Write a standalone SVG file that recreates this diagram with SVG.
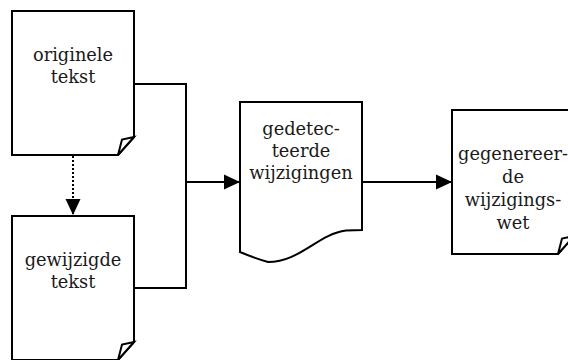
<svg xmlns="http://www.w3.org/2000/svg" width="568" height="360" viewBox="0 0 568 360">
  <style>
    .shape { fill: #ffffff; stroke: #000000; stroke-width: 2; stroke-linejoin: miter; }
    .wire { fill: none; stroke: #000000; stroke-width: 2; }
    .dotted { fill: none; stroke: #000000; stroke-width: 2; stroke-dasharray: 2 2; }
    .label { font-family: "DejaVu Serif", serif; font-size: 17.8px; fill: #1a1a1a; text-anchor: middle; }
  </style>
  <defs>
    <marker id="arrow" markerUnits="userSpaceOnUse" markerWidth="16" markerHeight="16" refX="16" refY="8" orient="auto">
      <path d="M0,0.5 L16,8 L0,15.5 Z" fill="#000000"/>
    </marker>
  </defs>

  <rect width="568" height="360" fill="#ffffff"/>

  <!-- connectors -->
  <g id="connectors">
    <path class="wire" d="M134,84 H186 V288 H134"/>
    <path class="wire" d="M186,182 H240" marker-end="url(#arrow)"/>
    <path class="wire" d="M362,182 H452" marker-end="url(#arrow)"/>
    <path class="dotted" d="M73,156 V215" marker-end="url(#arrow)"/>
  </g>

  <!-- original text document -->
  <g id="originele-tekst">
    <path class="shape" d="M12,11 H134 V137 L118,155 H12 Z"/>
    <path class="shape" d="M134,137 L122,139.5 L118,155 Z"/>
    <text class="label" x="73" y="61">originele</text>
    <text class="label" x="73" y="83">tekst</text>
  </g>

  <!-- modified text document -->
  <g id="gewijzigde-tekst">
    <path class="shape" d="M12,216 H134 V342 L118,360 H12 Z"/>
    <path class="shape" d="M134,342 L122,344.5 L118,360 Z"/>
    <text class="label" x="73" y="266">gewijzigde</text>
    <text class="label" x="73" y="288">tekst</text>
  </g>

  <!-- detected changes (document shape with wavy bottom) -->
  <g id="gedetecteerde-wijzigingen">
    <path class="shape" d="M240,102 H362 V230 L346,230.5 C318,234 300,262 268,262 Q254,258 240,252 Z"/>
    <text class="label" x="301" y="135">gedetec-</text>
    <text class="label" x="301" y="157">teerde</text>
    <text class="label" x="301" y="179">wijzigingen</text>
  </g>

  <!-- generated amendment law -->
  <g id="gegenereerde-wijzigingswet">
    <path class="shape" d="M452,110 H574 V236 L558,254 H452 Z"/>
    <path class="shape" d="M574,236 L562,238.5 L558,254 Z"/>
    <text class="label" x="513" y="160">gegenereer-</text>
    <text class="label" x="513" y="183">de</text>
    <text class="label" x="513" y="206">wijzigings-</text>
    <text class="label" x="513" y="229">wet</text>
  </g>
</svg>
